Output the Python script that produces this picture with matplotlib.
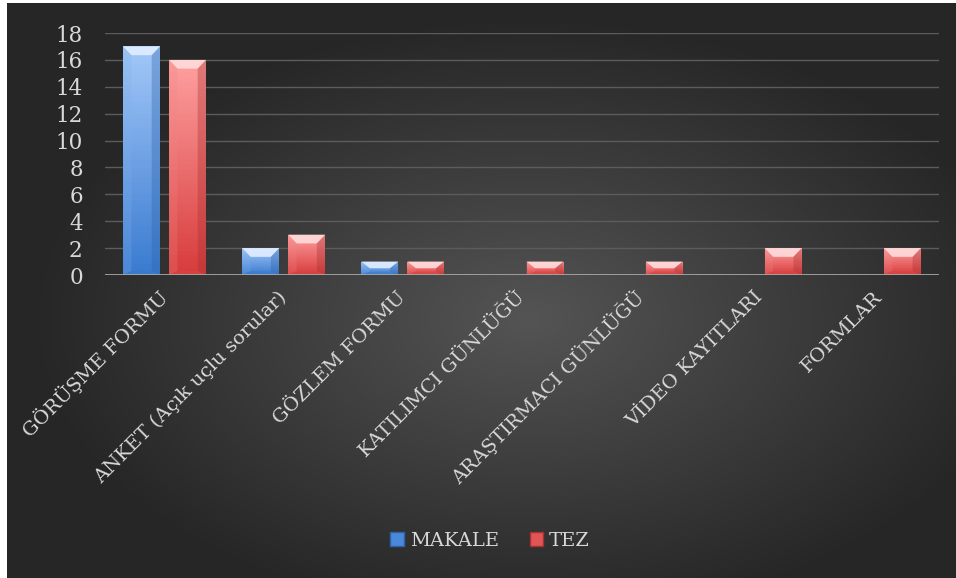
import numpy as np
import matplotlib
matplotlib.use('Agg')
import matplotlib.pyplot as plt
from matplotlib.patches import Polygon, Patch

categories = ['GÖRÜŞME FORMU', 'ANKET (Açık uçlu sorular)', 'GÖZLEM FORMU',
              'KATILIMCI GÜNLÜĞÜ', 'ARAŞTIRMACI GÜNLÜĞÜ', 'VİDEO KAYITLARI', 'FORMLAR']
makale = [17, 2, 1, 0, 0, 0, 0]
tez = [16, 3, 1, 1, 1, 2, 2]
yticks = list(range(0, 19, 2))

txt = '#d9d9d9'
plt.rcParams['font.family'] = ['DejaVu Serif']

fig = plt.figure(figsize=(9.56, 5.78), dpi=100)
fig.patch.set_facecolor('white')

# radial dark background
bg = fig.add_axes([7 / 956, 0, 1 - 7 / 956, 1 - 3 / 578])
bg.set_axis_off()
yy, xx = np.mgrid[0:1:300j, 0:1:500j]
r = np.sqrt(((xx - 0.55) / 0.7) ** 2 + ((yy - 0.55) / 0.7) ** 2)
shade = np.clip(0.33 - 0.24 * r, 0.15, 0.33)
bg.imshow(np.dstack([shade] * 3), extent=[0, 1, 0, 1], aspect='auto')

ax = fig.add_axes([105 / 956, 1 - 275 / 578, (939 - 105) / 956, (275 - 33) / 578])
ax.patch.set_alpha(0)
x = np.arange(len(categories))
w = 0.31
off = 0.193

styles = [
    (makale, -off, ('#a3c8f8', '#3a7bd0'), '#e2eeff', '#7fb0ee', '#2f63a8', '#3c78c6'),
    (tez, off, ('#ffa0a0', '#d83c3c'), '#ffdcdc', '#f08585', '#a83030', '#cf4a4a'),
]

for vals, dx, (ctop, cbot), clight, cleft, cright, cbottom in styles:
    bars = ax.bar(x + dx, vals, w, color=cbot, zorder=3, linewidth=0)
    grad = np.linspace(0, 1, 64)[:, None]
    c1 = np.array(matplotlib.colors.to_rgb(ctop))
    c2 = np.array(matplotlib.colors.to_rgb(cbot))
    for b in bars:
        h = b.get_height()
        if h <= 0:
            continue
        x0, x1 = b.get_x(), b.get_x() + b.get_width()
        img = c1[None, None, :] * (1 - grad[:, :, None]) + c2[None, None, :] * grad[:, :, None]
        im = ax.imshow(img, extent=[x0, x1, 0, h], aspect='auto', zorder=3.1)
        im.set_clip_path(b)
        bx = 0.07
        by = min(0.65, h / 2)
        byb = min(0.3, h / 4)
        ax.add_patch(Polygon([(x0, h), (x1, h), (x1 - bx, h - by), (x0 + bx, h - by)],
                             closed=True, fc=clight, ec='none', alpha=0.9, zorder=3.2))
        ax.add_patch(Polygon([(x0, 0), (x0, h), (x0 + bx, h - by), (x0 + bx, byb)],
                             closed=True, fc=cleft, ec='none', alpha=0.25, zorder=3.2))
        ax.add_patch(Polygon([(x1, 0), (x1, h), (x1 - bx, h - by), (x1 - bx, byb)],
                             closed=True, fc=cright, ec='none', alpha=0.35, zorder=3.2))
        ax.add_patch(Polygon([(x0, 0), (x1, 0), (x1 - bx, byb), (x0 + bx, byb)],
                             closed=True, fc=cbottom, ec='none', alpha=0.4, zorder=3.2))

ax.set_xlim(-0.5, len(categories) - 0.5)
ax.set_ylim(0, 18)
ax.set_yticks(yticks)
ax.set_yticklabels([str(v) for v in yticks], fontsize=15.5, color=txt)
ax.yaxis.grid(True, color='#5c5c5c', linewidth=1, zorder=1)
ax.set_axisbelow(True)
ax.axhline(0, color='#a6a6a6', linewidth=2, zorder=4)
ax.set_xticks(x)
ax.set_xticklabels(categories, rotation=45, ha='right', va='center',
                   rotation_mode='anchor', fontsize=14, color=txt)
ax.tick_params(axis='both', length=0)
ax.tick_params(axis='x', pad=14)
ax.tick_params(axis='y', pad=16)
for s in ax.spines.values():
    s.set_visible(False)

handles = [Patch(facecolor='#4a88da', edgecolor='#2f63a8', label='MAKALE'),
           Patch(facecolor='#e05555', edgecolor='#a83030', label='TEZ')]
leg = fig.legend(handles=handles, loc='center', bbox_to_anchor=(490 / 956, 1 - 541 / 578),
                 ncol=2, frameon=False, prop={'family': 'DejaVu Serif', 'size': 14},
                 handlelength=0.7, handleheight=0.7,
                 handletextpad=0.3, columnspacing=1.6)
for t in leg.get_texts():
    t.set_color(txt)

fig.savefig('out.png', dpi=100)
